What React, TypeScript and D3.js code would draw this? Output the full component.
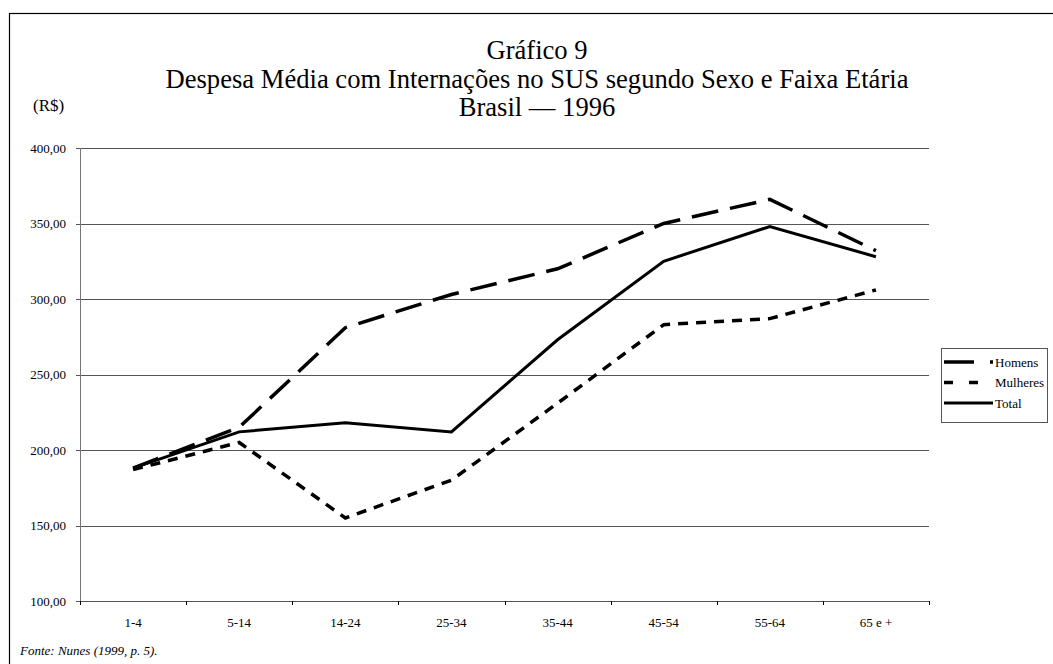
import React from "react";
import * as d3 from "d3";

// faixas etárias e despesa média (R$)
const faixas = ["1-4", "5-14", "14-24", "25-34", "35-44", "45-54", "55-64", "65 e +"];
const homens = [188, 215, 281, 303, 320, 350, 366, 332];
const mulheres = [187, 205, 155, 180, 231, 283, 287, 306];
const total = [188, 212, 218, 212, 273, 325, 348, 328];
const yTicks = [100, 150, 200, 250, 300, 350, 400];

const W = 1053;
const H = 664;
const left = 80;
const right = 929;
const top = 148;
const bottom = 601;

const series = [
  { name: "Homens", values: homens, dash: "27,12", width: 3.5 },
  { name: "Mulheres", values: mulheres, dash: "10,8", width: 3.5 },
  { name: "Total", values: total, dash: null as string | null, width: 3 },
];

const FONT = "Liberation Serif, Times New Roman, Times, serif";

const App = () => {
  const x = d3.scaleBand<string>().domain(faixas).range([left, right]);
  const y = d3.scaleLinear().domain([100, 400]).range([bottom, top]);
  const line = d3
    .line<number>()
    .x((_, i) => (x(faixas[i]) ?? 0) + x.bandwidth() / 2)
    .y((d) => y(d));
  const fmt = (v: number) => d3.format(".2f")(v).replace(".", ",");

  return (
    <svg width={W} height={H} style={{ position: "absolute", left: 0, top: 0 }}>
      <g fontFamily={FONT}>
        <rect x={0} y={0} width={W} height={H} fill="#fff" />
        <rect x={9.5} y={13.5} width={1100} height={700} fill="none" stroke="#000" strokeWidth={1.2} />

        {/* titulo */}
        <g textAnchor="middle" fontSize={26.6} fill="#000">
          <text x={537} y={59}>Gráfico 9</text>
          <text x={537} y={88}>Despesa Média com Internações no SUS segundo Sexo e Faixa Etária</text>
          <text x={537} y={116}>Brasil — 1996</text>
        </g>
        <text x={33} y={111} fontSize={17}>(R$)</text>

        {/* grade e eixo y */}
        {yTicks.map((t) => (
          <g key={t}>
            <line x1={left - 4} x2={right} y1={Math.round(y(t)) + 0.5} y2={Math.round(y(t)) + 0.5} stroke="#555" />
            <text x={66} y={y(t) + 4.5} fontSize={13} textAnchor="end">{fmt(t)}</text>
          </g>
        ))}
        <line x1={left + 0.5} x2={left + 0.5} y1={top} y2={bottom} stroke="#777" />

        {/* eixo x */}
        {faixas.map((f, i) => (
          <g key={f}>
            <line
              x1={Math.round((x(f) ?? 0) + x.bandwidth()) + 0.5}
              x2={Math.round((x(f) ?? 0) + x.bandwidth()) + 0.5}
              y1={bottom}
              y2={bottom + 4}
              stroke="#000"
            />
            <text x={(x(f) ?? 0) + x.bandwidth() / 2} y={627} fontSize={13} textAnchor="middle">{f}</text>
            {i === 0 && <line x1={left + 0.5} x2={left + 0.5} y1={bottom} y2={bottom + 4} stroke="#000" />}
          </g>
        ))}

        {/* series */}
        {series.map((s) => (
          <path
            key={s.name}
            d={line(s.values) ?? ""}
            fill="none"
            stroke="#000"
            strokeWidth={s.width}
            strokeDasharray={s.dash ?? undefined}
          />
        ))}

        {/* legenda */}
        <rect x={941.5} y={348.5} width={106} height={74} fill="#fff" stroke="#555" />
        {series.map((s, i) => (
          <g key={s.name} transform={`translate(0, ${362 + i * 20.5})`}>
            <line
              x1={944}
              x2={993}
              y1={0}
              y2={0}
              stroke="#000"
              strokeWidth={s.width}
              strokeDasharray={s.name === "Homens" ? "30,16" : s.name === "Mulheres" ? "9,16" : undefined}
            />
            <text x={995} y={4.5} fontSize={13}>{s.name}</text>
          </g>
        ))}

        <text x={20} y={655} fontSize={13} fontStyle="italic">Fonte: Nunes (1999, p. 5).</text>
      </g>
    </svg>
  );
};

export default App;
